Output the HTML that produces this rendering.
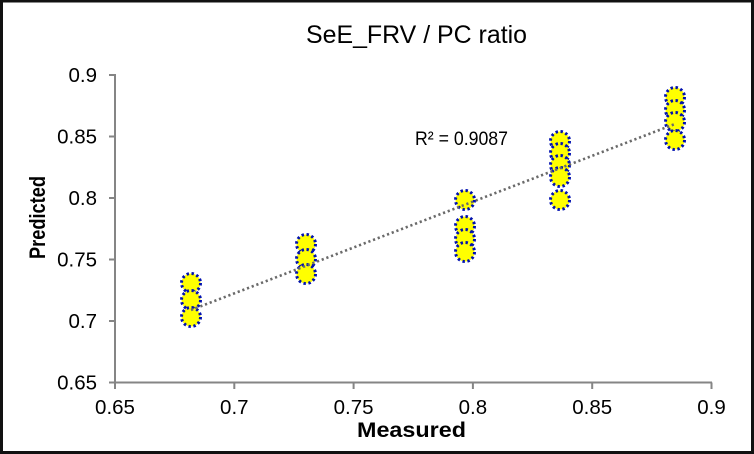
<!DOCTYPE html>
<html><head><meta charset="utf-8"><style>
html,body{margin:0;padding:0;background:#fff;}
svg{display:block;}
text{font-family:"Liberation Sans",Arial,sans-serif;fill:#000;}
</style></head><body>
<svg width="754" height="454" viewBox="0 0 754 454" xmlns="http://www.w3.org/2000/svg">
<rect x="0" y="0" width="754" height="454" fill="#fff"/>
<rect x="1.5" y="1" width="751" height="451.5" fill="none" stroke="#111" stroke-width="3"/>
<!-- title -->
<text x="306" y="43" font-size="25" textLength="221" lengthAdjust="spacingAndGlyphs">SeE_FRV / PC ratio</text>
<!-- axes -->
<g stroke="#858585" stroke-width="2" fill="none">
<line x1="115" y1="74" x2="115" y2="383.5"/>
<line x1="114" y1="382.5" x2="712" y2="382.5"/>
<line x1="109" y1="75" x2="115" y2="75"/>
<line x1="109" y1="136.5" x2="115" y2="136.5"/>
<line x1="109" y1="198" x2="115" y2="198"/>
<line x1="109" y1="259.5" x2="115" y2="259.5"/>
<line x1="109" y1="321" x2="115" y2="321"/>
<line x1="109" y1="382.5" x2="115" y2="382.5"/>
<line x1="115" y1="382.5" x2="115" y2="389"/>
<line x1="234.3" y1="382.5" x2="234.3" y2="389"/>
<line x1="353.6" y1="382.5" x2="353.6" y2="389"/>
<line x1="472.9" y1="382.5" x2="472.9" y2="389"/>
<line x1="592.2" y1="382.5" x2="592.2" y2="389"/>
<line x1="711.5" y1="382.5" x2="711.5" y2="389"/>
</g>
<!-- y tick labels -->
<g font-size="20.5" text-anchor="end">
<text x="97" y="82">0.9</text>
<text x="97" y="143.5">0.85</text>
<text x="97" y="205">0.8</text>
<text x="97" y="266.5">0.75</text>
<text x="97" y="328">0.7</text>
<text x="97" y="389.5">0.65</text>
</g>
<!-- x tick labels -->
<g font-size="20.5" text-anchor="middle">
<text x="115" y="414">0.65</text>
<text x="234.3" y="414">0.7</text>
<text x="353.6" y="414">0.75</text>
<text x="472.9" y="414">0.8</text>
<text x="592.2" y="414">0.85</text>
<text x="711.5" y="414">0.9</text>
</g>
<!-- axis titles -->
<text x="357" y="437" font-size="21" font-weight="bold" textLength="109" lengthAdjust="spacingAndGlyphs">Measured</text>
<text transform="translate(45,259) rotate(-90)" x="0" y="0" font-size="22" font-weight="bold" textLength="83" lengthAdjust="spacingAndGlyphs">Predicted</text>
<!-- markers -->
<g fill="#ffff00" stroke="#0010b0" stroke-width="3" stroke-dasharray="2.4 2.6">
<circle cx="191" cy="283" r="9.5"/>
<circle cx="191" cy="300" r="9.5"/>
<circle cx="191" cy="317" r="9.5"/>
<circle cx="306" cy="244" r="9.5"/>
<circle cx="306" cy="259" r="9.5"/>
<circle cx="306" cy="274" r="9.5"/>
<circle cx="465" cy="200" r="9.5"/>
<circle cx="465" cy="226" r="9.5"/>
<circle cx="465" cy="239" r="9.5"/>
<circle cx="465" cy="252" r="9.5"/>
<circle cx="560" cy="141" r="9.5"/>
<circle cx="560" cy="153" r="9.5"/>
<circle cx="560" cy="165" r="9.5"/>
<circle cx="560" cy="177" r="9.5"/>
<circle cx="560" cy="200" r="9.5"/>
<circle cx="675" cy="97" r="9.5"/>
<circle cx="675" cy="110" r="9.5"/>
<circle cx="675" cy="122" r="9.5"/>
<circle cx="675" cy="140" r="9.5"/>
</g>
<!-- trendline -->
<line x1="191" y1="310" x2="675" y2="124" stroke="#6a6a6a" stroke-width="2.6" stroke-dasharray="2.2 2.8"/>
<!-- R2 -->
<text x="415" y="145" font-size="19" textLength="93" lengthAdjust="spacingAndGlyphs">R² = 0.9087</text>
</svg>
</body></html>
